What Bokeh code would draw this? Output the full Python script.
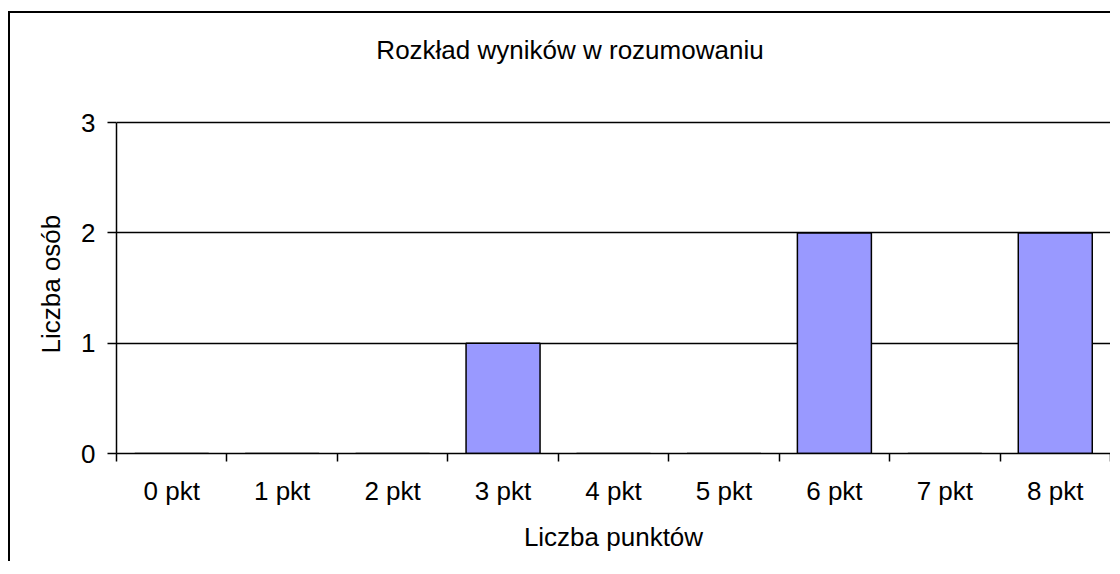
from bokeh.plotting import figure
from bokeh.models import Range1d, FixedTicker, LinearAxis, Grid, Label, Title
from bokeh.embed import file_html
from bokeh.resources import INLINE

categories = ["0 pkt", "1 pkt", "2 pkt", "3 pkt", "4 pkt", "5 pkt", "6 pkt", "7 pkt", "8 pkt"]
counts = [0, 0, 0, 1, 0, 0, 2, 0, 2]
y_ticks = [0, 1, 2, 3]
title_text = "Rozkład wyników w rozumowaniu"
x_label = "Liczba punktów"
y_label = "Liczba osób"

FONT = "Liberation Sans"
FS = "26px"
n = len(categories)
centers = list(range(n))
bounds = [i - 0.5 for i in range(n + 1)]
y_max = max(y_ticks)

p = figure(width=1102, height=550, output_backend="svg", toolbar_location=None,
           x_range=Range1d(-0.5, n - 0.5), y_range=Range1d(0, y_max * 1.3),
           min_border_left=106, min_border_right=2, min_border_top=10, min_border_bottom=110,
           x_axis_type=None, y_axis_type=None)
p.outline_line_color = None
p.background_fill_color = "white"
p.border_fill_color = "white"
p.styles = {"border-left": "2px solid black", "border-top": "2px solid black",
            "margin-left": "8px", "margin-top": "11px"}

xaxis = LinearAxis(ticker=FixedTicker(ticks=centers, minor_ticks=bounds),
                   major_label_overrides={i: c for i, c in zip(centers, categories)},
                   major_tick_line_color=None, minor_tick_out=8, minor_tick_in=0,
                   minor_tick_line_color="black", minor_tick_line_width=1.5,
                   axis_line_color="black", axis_line_width=1.5,
                   major_label_standoff=14,
                   major_label_text_font=FONT, major_label_text_font_size=FS,
                   major_label_text_color="black",
                   axis_label=x_label, axis_label_standoff=13,
                   axis_label_text_font=FONT, axis_label_text_font_size=FS,
                   axis_label_text_font_style="normal", axis_label_text_color="black")
p.add_layout(xaxis, "below")

yaxis = LinearAxis(ticker=FixedTicker(ticks=y_ticks), bounds=(0, y_max),
                   major_tick_out=9, major_tick_in=0,
                   major_tick_line_color="black", major_tick_line_width=1.5,
                   minor_tick_line_color=None,
                   axis_line_color="black", axis_line_width=1.5,
                   major_label_standoff=12,
                   major_label_text_font=FONT, major_label_text_font_size=FS,
                   major_label_text_color="black")
p.add_layout(yaxis, "left")

# y-axis title, anchored to the bottom of the plot frame
p.add_layout(Title(text=y_label, align="left", offset=100, standoff=24,
                   vertical_align="middle", text_font=FONT, text_font_size=FS,
                   text_font_style="normal", text_color="black"), "left")

p.add_layout(Grid(dimension=1, ticker=FixedTicker(ticks=y_ticks), grid_line_color="black",
                  grid_line_width=1.5))

p.vbar(x=centers, top=counts, bottom=0, width=0.67, fill_color="#9999FF",
       line_color="black", line_width=1.5)

p.add_layout(Label(x=3.606, y=3.662, text=title_text, text_align="center",
                   text_baseline="middle", text_font=FONT, text_font_size=FS,
                   text_color="black"))

open("out.html", "w").write(file_html(p, INLINE))
